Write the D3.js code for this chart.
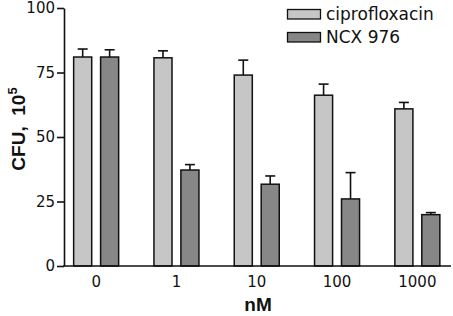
<!DOCTYPE html>
<html>
<head>
<meta charset="utf-8">
<script src="https://cdn.jsdelivr.net/npm/d3@7"></script>
<style>
  body { margin: 0; background: #fff; }
  svg text { font-family: "DejaVu Sans", Arial, sans-serif; fill: #111; }
  svg text.bold { font-family: "Liberation Sans", Arial, Helvetica, sans-serif; font-weight: bold; white-space: pre; }
</style>
</head>
<body>
<svg id="chart" width="453" height="316"></svg>
<script>
// Data
const doses = ["0", "1", "10", "100", "1000"];
const seriesNames = ["ciprofloxacin", "NCX 976"];
const cipro = [81, 80.7, 74, 66.2, 60.9];
const ciproErr = [3.1, 2.7, 5.8, 4.3, 2.5];
const ncx = [81, 37.2, 31.7, 26, 19.9];
const ncxErr = [2.8, 2.1, 3.2, 10.2, 0.8];
const yTicks = [0, 25, 50, 75, 100];

const colors = ["#c6c6c6", "#878787"];

const svg = d3.select("#chart");

const y = d3.scaleLinear().domain([0, 100]).range([266, 8]);

const x = d3.scaleBand()
  .domain(doses)
  .range([56, 457.5])
  .padding(0);

const xSub = d3.scaleBand()
  .domain(seriesNames)
  .range([-22.5, 22.5])
  .paddingInner(0.33);

const rows = doses.map((d, i) => [
  { dose: d, name: seriesNames[0], v: cipro[i], e: ciproErr[i] },
  { dose: d, name: seriesNames[1], v: ncx[i], e: ncxErr[i] }
]).flat();

// error bars (drawn first so the bar top edge covers them)
const eb = svg.append("g").attr("stroke", "#111").attr("stroke-width", 1.6);
rows.forEach(r => {
  const cx = x(r.dose) + x.bandwidth() / 2 + xSub(r.name) + xSub.bandwidth() / 2;
  eb.append("line").attr("x1", cx).attr("x2", cx)
    .attr("y1", y(r.v)).attr("y2", y(r.v + r.e));
  eb.append("line").attr("x1", cx - 5).attr("x2", cx + 5)
    .attr("y1", y(r.v + r.e)).attr("y2", y(r.v + r.e));
});

// bars
svg.append("g").selectAll("rect")
  .data(rows)
  .enter()
  .append("rect")
  .attr("x", d => x(d.dose) + x.bandwidth() / 2 + xSub(d.name))
  .attr("width", xSub.bandwidth())
  .attr("y", d => y(d.v))
  .attr("height", d => y(0) - y(d.v))
  .attr("fill", d => colors[seriesNames.indexOf(d.name)])
  .attr("stroke", "#111")
  .attr("stroke-width", 1.5);

// y axis
const yAxis = svg.append("g")
  .attr("transform", "translate(64,0)")
  .call(d3.axisLeft(y).tickValues(yTicks).tickSize(7).tickSizeOuter(0).tickPadding(2));
yAxis.select(".domain").attr("stroke", "#111").attr("stroke-width", 1.6);
yAxis.selectAll(".tick line").attr("stroke", "#111").attr("stroke-width", 1.6);
yAxis.selectAll("text").style("font-size", "15px").attr("fill", "#111")
  .style("font-family", "'DejaVu Sans', Arial, sans-serif");

// x axis
const xAxis = svg.append("g")
  .attr("transform", "translate(0,266)")
  .call(d3.axisBottom(x).tickSize(0).tickPadding(10));
xAxis.select(".domain").remove();
xAxis.selectAll("text").style("font-size", "15px").attr("fill", "#111")
  .style("font-family", "'DejaVu Sans', Arial, sans-serif");
svg.append("line")
  .attr("x1", 63.2).attr("x2", 451)
  .attr("y1", 266).attr("y2", 266)
  .attr("stroke", "#111").attr("stroke-width", 1.6);

// axis titles
svg.append("text")
  .attr("class", "bold")
  .attr("x", 258).attr("y", 311)
  .attr("text-anchor", "middle")
  .style("font-size", "19px")
  .text("nM");

const yLabel = svg.append("text")
  .attr("class", "bold")
  .attr("transform", "translate(25,129) rotate(-90)")
  .attr("text-anchor", "middle")
  .style("font-size", "19px");
yLabel.append("tspan").text("CFU,  10");
yLabel.append("tspan").attr("dy", -8).style("font-size", "13px").text("5");

// legend
const legend = svg.append("g");
seriesNames.forEach((name, i) => {
  const ly = 9.5 + i * 23;
  legend.append("rect")
    .attr("x", 287.5).attr("y", ly)
    .attr("width", 33).attr("height", 9.5)
    .attr("fill", colors[i]).attr("stroke", "#111").attr("stroke-width", 1.3);
  legend.append("text")
    .attr("x", 326).attr("y", ly + 10)
    .style("font-size", "17px")
    .text(name);
});
</script>
</body>
</html>
